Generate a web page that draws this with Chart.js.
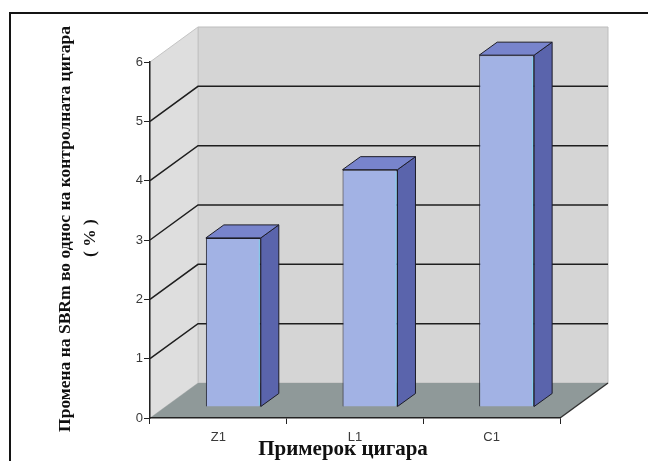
<!DOCTYPE html>
<html>
<head>
<meta charset="utf-8">
<script src="https://cdn.jsdelivr.net/npm/chart.js@4/dist/chart.umd.min.js"></script>
<style>
  html, body { margin: 0; padding: 0; background: #ffffff; }
  canvas { display: block; }
</style>
</head>
<body>
<canvas id="chart" width="648" height="461"></canvas>
<script>
// Samples and their SBRm change relative to the control cigarette (%)
const categories = ['Z1', 'L1', 'C1'];
const sbrmChange = [2.85, 4.0, 5.93];
const yTickValues = [0, 1, 2, 3, 4, 5, 6];
const yTitleLines = ['Промена на SBRm во однос на контролната цигара', '( % )'];
const xTitle = 'Примерок цигара';

// 3D box geometry (pixels)
const WALL_DX = 48, WALL_DY = -35;   // depth of the back wall
const BAR_OFF_X = 15, BAR_OFF_Y = -11; // bars sit in the middle of the depth
const BAR_DX = 18, BAR_DY = -13;     // depth of each bar

const colors = {
  backWall: '#d5d5d5',
  sideWall: '#dedede',
  floor: '#8f9999',
  grid: '#1e1e1e',
  front: '#a2b2e4',
  side: '#5a64ac',
  top: '#7884cc',
  edge: '#1c1c28'
};

function poly(ctx, pts, fill, stroke, lw) {
  ctx.beginPath();
  ctx.moveTo(pts[0][0], pts[0][1]);
  for (let i = 1; i < pts.length; i++) ctx.lineTo(pts[i][0], pts[i][1]);
  ctx.closePath();
  if (fill) { ctx.fillStyle = fill; ctx.fill(); }
  if (stroke) { ctx.strokeStyle = stroke; ctx.lineWidth = lw || 1; ctx.stroke(); }
}

const box3d = {
  id: 'box3d',
  beforeDraw(chart) {
    const ctx = chart.ctx;
    const ys = chart.scales.y;
    const { left, right, top, bottom } = chart.chartArea;
    ctx.save();
    // page background and frame
    ctx.fillStyle = '#ffffff';
    ctx.fillRect(0, 0, chart.width, chart.height);
    ctx.strokeStyle = '#141414';
    ctx.lineWidth = 2;
    ctx.beginPath();
    ctx.moveTo(10, chart.height);
    ctx.lineTo(10, 13);
    ctx.lineTo(chart.width, 13);
    ctx.stroke();

    const bx = left + WALL_DX, by = WALL_DY;
    // back wall
    poly(ctx, [[bx, top + by], [right + WALL_DX, top + by], [right + WALL_DX, bottom + by], [bx, bottom + by]],
      colors.backWall, '#bdbdbd', 1);
    // side wall
    poly(ctx, [[left, top], [bx, top + by], [bx, bottom + by], [left, bottom]], colors.sideWall, '#c4c4c4', 1);
    // floor
    poly(ctx, [[left, bottom], [bx, bottom + by], [right + WALL_DX, bottom + by], [right, bottom]], colors.floor, null);
    ctx.strokeStyle = '#333';
    ctx.lineWidth = 1.5;
    ctx.beginPath();
    ctx.moveTo(right, bottom);
    ctx.lineTo(right + WALL_DX, bottom + by);
    ctx.stroke();

    // gridlines on the side wall and back wall
    ctx.strokeStyle = colors.grid;
    ctx.lineWidth = 1.5;
    yTickValues.forEach(v => {
      if (v === yTickValues[0] || v === yTickValues[yTickValues.length - 1]) return;
      const y = ys.getPixelForValue(v);
      ctx.beginPath();
      ctx.moveTo(left, y);
      ctx.lineTo(bx, y + by);
      ctx.lineTo(right + WALL_DX, y + by);
      ctx.stroke();
    });
    ctx.restore();
  },
  beforeDatasetsDraw(chart) {
    chart.ctx.save();
    chart.ctx.translate(BAR_OFF_X, BAR_OFF_Y);
  },
  afterDatasetsDraw(chart) {
    const ctx = chart.ctx;
    const meta = chart.getDatasetMeta(0);
    meta.data.forEach(bar => {
      const p = bar.getProps(['x', 'y', 'base', 'width'], true);
      const l = p.x - p.width / 2, r = p.x + p.width / 2;
      const t = p.y, b = p.base;
      poly(ctx, [[r, t], [r + BAR_DX, t + BAR_DY], [r + BAR_DX, b + BAR_DY], [r, b]], colors.side, colors.edge, 1);
      poly(ctx, [[l, t], [l + BAR_DX, t + BAR_DY], [r + BAR_DX, t + BAR_DY], [r, t]], colors.top, colors.edge, 1);
      // light highlight along the right edge of the front face
      ctx.strokeStyle = '#7fd0ee';
      ctx.lineWidth = 1;
      ctx.beginPath();
      ctx.moveTo(r - 1.5, t + 2);
      ctx.lineTo(r - 1.5, b - 1);
      ctx.stroke();
    });
    ctx.restore();
  },
  afterDraw(chart) {
    const ctx = chart.ctx;
    ctx.save();
    ctx.fillStyle = '#111111';
    ctx.textAlign = 'center';
    ctx.textBaseline = 'middle';
    // y title, rotated
    ctx.font = 'bold 17.5px "Liberation Serif", "Times New Roman", serif';
    ctx.translate(65, 229);
    ctx.rotate(-Math.PI / 2);
    ctx.fillText(yTitleLines[0], 0, 0);
    ctx.fillText(yTitleLines[1], -9, 25);
    ctx.restore();
    ctx.save();
    ctx.fillStyle = '#111111';
    ctx.textAlign = 'center';
    ctx.textBaseline = 'middle';
    ctx.font = 'bold 21px "Liberation Serif", "Times New Roman", serif';
    ctx.fillText(xTitle, 343, 450);
    ctx.restore();
  }
};

new Chart(document.getElementById('chart'), {
  type: 'bar',
  data: {
    labels: categories,
    datasets: [{
      data: sbrmChange,
      backgroundColor: colors.front,
      borderColor: colors.edge,
      borderWidth: 1,
      barPercentage: 1,
      categoryPercentage: 0.402
    }]
  },
  options: {
    responsive: false,
    animation: false,
    devicePixelRatio: 1,
    layout: { padding: { top: 62, right: 88, left: 0, bottom: 0 } },
    plugins: { legend: { display: false }, tooltip: { enabled: false } },
    scales: {
      x: {
        offset: true,
        grid: { drawOnChartArea: false, tickLength: 6, color: '#222', offset: true },
        border: { color: '#222', width: 1.5 },
        ticks: { color: '#3a3a3a', padding: 6, font: { family: '"Liberation Sans", Arial, sans-serif', size: 13 } },
        afterFit(scale) { scale.height = 43; }
      },
      y: {
        min: 0,
        max: 6,
        afterBuildTicks(scale) { scale.ticks = yTickValues.map(v => ({ value: v })); },
        grid: { drawOnChartArea: false, tickLength: 6, color: '#222' },
        border: { color: '#222', width: 1.5 },
        ticks: { color: '#3a3a3a', padding: 1, font: { family: '"Liberation Sans", Arial, sans-serif', size: 13 } },
        afterFit(scale) { scale.width = 150; }
      }
    }
  },
  plugins: [box3d]
});
</script>
</body>
</html>
